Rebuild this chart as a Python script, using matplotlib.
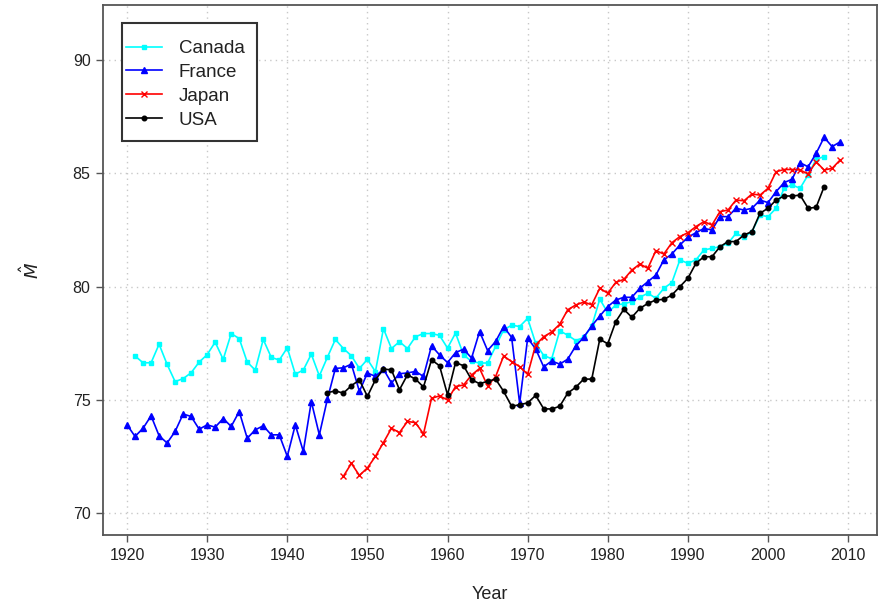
import numpy as np
import matplotlib
matplotlib.use("Agg")
import matplotlib.pyplot as plt
from matplotlib.patches import Rectangle

plt.rcParams['font.family'] = ['Liberation Sans', 'DejaVu Sans']

# Mean age estimates by country and year
canada_start = 1921
canada = [76.94, 76.64, 76.64, 77.46, 76.57, 75.81, 75.94, 76.20, 76.67, 77.00,
          77.55, 76.79, 77.93, 77.71, 76.67, 76.32, 77.67, 76.88, 76.76, 77.30,
          76.14, 76.32, 77.02, 76.06, 76.88, 77.67, 77.27, 76.95, 76.39, 76.79,
          76.25, 78.15, 77.27, 77.57, 77.27, 77.79, 77.93, 77.93, 77.85, 77.29,
          77.95, 76.99, 76.70, 76.63, 76.63, 77.36, 78.09, 78.30, 78.24, 78.60,
          77.50, 76.96, 76.82, 78.05, 77.86, 77.62, 77.76, 78.25, 79.45, 78.85,
          79.19, 79.24, 79.34, 79.53, 79.71, 79.49, 79.93, 80.18, 81.18, 81.03,
          81.18, 81.62, 81.69, 81.76, 81.91, 82.35, 82.18, 82.43, 83.16, 83.09,
          83.46, 84.34, 84.49, 84.34, 84.93, 85.62, 85.74]

france_start = 1920
france = [73.90, 73.39, 73.75, 74.30, 73.42, 73.10, 73.61, 74.38, 74.27, 73.71,
          73.90, 73.80, 74.18, 73.83, 74.49, 73.31, 73.68, 73.86, 73.46, 73.46,
          72.51, 73.90, 72.73, 74.93, 73.46, 75.03, 76.39, 76.42, 76.58, 75.38,
          76.19, 76.04, 76.36, 75.75, 76.16, 76.19, 76.26, 76.04, 77.39, 76.99,
          76.65, 77.09, 77.24, 76.85, 78.02, 77.18, 77.58, 78.24, 77.76, 74.85,
          77.73, 77.25, 76.46, 76.72, 76.58, 76.80, 77.38, 77.77, 78.27, 78.70,
          79.12, 79.41, 79.53, 79.53, 79.93, 80.22, 80.51, 81.18, 81.44, 81.84,
          82.18, 82.38, 82.57, 82.50, 83.09, 83.09, 83.46, 83.38, 83.46, 83.82,
          83.71, 84.19, 84.59, 84.74, 85.47, 85.29, 85.88, 86.59, 86.18, 86.39]

japan_start = 1947
japan = [71.63, 72.20, 71.67, 72.00, 72.51, 73.12, 73.75, 73.56, 74.05, 74.00,
         73.50, 75.07, 75.18, 75.00, 75.59, 75.66, 76.10, 76.39, 75.62, 76.03,
         76.94, 76.69, 76.47, 76.13, 77.43, 77.79, 78.00, 78.34, 78.98, 79.19,
         79.32, 79.20, 79.93, 79.71, 80.19, 80.32, 80.73, 81.00, 80.81, 81.59,
         81.44, 81.94, 82.21, 82.38, 82.65, 82.87, 82.72, 83.31, 83.38, 83.82,
         83.79, 84.09, 84.04, 84.34, 85.07, 85.17, 85.17, 85.15, 84.97, 85.51,
         85.15, 85.22, 85.59]

usa_start = 1945
usa = [75.32, 75.40, 75.30, 75.63, 75.88, 75.16, 75.89, 76.36, 76.33, 75.45,
       76.11, 75.92, 75.57, 76.77, 76.51, 75.23, 76.65, 76.51, 75.89, 75.72,
       75.82, 75.92, 75.38, 74.72, 74.79, 74.87, 75.20, 74.61, 74.60, 74.72,
       75.30, 75.56, 75.92, 75.92, 77.68, 77.48, 78.46, 79.00, 78.65, 79.04,
       79.26, 79.41, 79.44, 79.63, 80.00, 80.37, 81.03, 81.32, 81.32, 81.76,
       81.99, 81.99, 82.28, 82.43, 83.24, 83.46, 83.82, 84.00, 84.00, 84.04,
       83.46, 83.50, 84.41]

x_ticks = [1920, 1930, 1940, 1950, 1960, 1970, 1980, 1990, 2000, 2010]
y_ticks = [70, 75, 80, 85, 90]

series = [
    ("Canada", canada_start, canada, "#00ffff", "s", 3.0),
    ("France", france_start, france, "#0000ff", "^", 4.0),
    ("Japan", japan_start, japan, "#ff0000", "x", 3.8),
    ("USA", usa_start, usa, "#000000", "o", 3.3),
]

fig = plt.figure(figsize=(8.8, 6.05), dpi=100)
ax = fig.add_axes([103 / 880, 1 - 535 / 605, 774 / 880, 530 / 605])

ax.set_xlim(1917.0, 2013.6)
ax.set_ylim(69.04, 92.43)

ax.set_xticks(x_ticks)
ax.set_yticks(y_ticks)
ax.grid(True, color="#c8c8c8", linestyle=(0, (1, 3)), linewidth=1.0)
ax.set_axisbelow(True)

handles = []
for name, start, vals, col, mk, ms in series:
    yrs = np.arange(start, start + len(vals))
    (ln,) = ax.plot(yrs, vals, color=col, marker=mk, markersize=ms,
                    linewidth=1.2, markeredgewidth=1.0, label=name)
    handles.append(ln)

for sp in ax.spines.values():
    sp.set_color("#555555")
    sp.set_linewidth(1.3)
ax.tick_params(axis="both", colors="#555555", length=5, width=1.0,
               direction="out", pad=4, labelsize=11.5, labelcolor="#222222")

ax.set_xlabel("Year", fontsize=13, color="#222222")
ax.xaxis.set_label_coords(0.5, -0.096)
ax.set_ylabel(r"$\hat{M}$", fontsize=13, color="#222222")
ax.yaxis.set_label_coords(-0.077, 0.5)

# Legend frame drawn as a plain box, entries placed inside it
box = Rectangle(((122 - 103) / 774, (535 - 141) / 530),
                (257 - 122) / 774, (141 - 23) / 530,
                transform=ax.transAxes, fill=True, facecolor="white",
                edgecolor="#333333", linewidth=1.5, zorder=5)
ax.add_patch(box)
leg = ax.legend(handles=handles, loc="upper left",
                bbox_to_anchor=((126 - 103) / 774, (535 - 40) / 530),
                frameon=False, borderpad=0, borderaxespad=0,
                handlelength=1.9, handletextpad=0.9, labelspacing=0.36,
                fontsize=13.5)
leg.set_zorder(6)
for t in leg.get_texts():
    t.set_color("#222222")

fig.savefig("out.png", dpi=100)
